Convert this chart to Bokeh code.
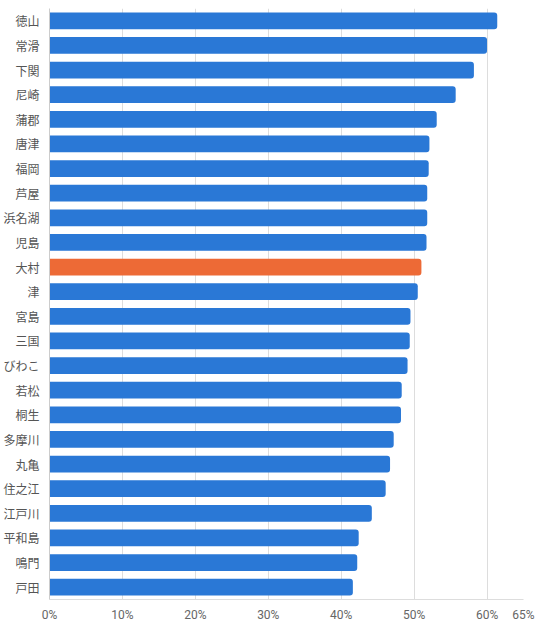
from bokeh.plotting import figure
from bokeh.models import ColumnDataSource, FactorRange, Range1d, FixedTicker, PrintfTickFormatter
from bokeh.embed import file_html
from bokeh.resources import INLINE

courses = ["徳山", "常滑", "下関", "尼崎", "蒲郡", "唐津", "福岡", "芦屋", "浜名湖", "児島",
           "大村", "津", "宮島", "三国", "びわこ", "若松", "桐生", "多摩川", "丸亀", "住之江",
           "江戸川", "平和島", "鳴門", "戸田"]
rates = [61.4, 60.0, 58.2, 55.7, 53.1, 52.1, 52.0, 51.8, 51.8, 51.7,
         51.0, 50.5, 49.5, 49.4, 49.1, 48.3, 48.2, 47.2, 46.7, 46.1,
         44.2, 42.4, 42.2, 41.6]
highlight = "大村"
x_ticks = [0, 10, 20, 30, 40, 50, 60, 65]

BLUE = "#2a78d6"
ORANGE = "#ed6a36"
colors = [ORANGE if c == highlight else BLUE for c in courses]

src = ColumnDataSource(dict(course=courses, rate=rates, color=colors))

p = figure(width=535, height=624, output_backend="svg", toolbar_location=None,
           y_range=FactorRange(factors=list(reversed(courses)), range_padding=0),
           x_range=Range1d(0, 65), min_border_top=8, min_border_right=12,
           min_border_left=48, min_border_bottom=0)

p.hbar(y="course", right="rate", left=0, height=0.68, source=src,
       fill_color="color", line_color=None, border_radius=(0, 3, 3, 0))

p.outline_line_color = None
p.ygrid.grid_line_color = None
p.xgrid.grid_line_color = "#dddddd"
p.xaxis.ticker = FixedTicker(ticks=x_ticks)
p.xgrid.ticker = FixedTicker(ticks=x_ticks)
p.xaxis.formatter = PrintfTickFormatter(format="%d%%")
p.xaxis.axis_line_color = "#dddddd"
p.xaxis.major_tick_line_color = None
p.xaxis.minor_tick_line_color = None
p.xaxis.major_tick_out = 0
p.xaxis.major_label_standoff = 8
p.xaxis.major_label_text_font = "Roboto"
p.xaxis.major_label_text_font_size = "12px"
p.xaxis.major_label_text_color = "#666666"

p.yaxis.axis_line_color = "#cccccc"
p.yaxis.major_tick_line_color = None
p.yaxis.minor_tick_line_color = None
p.yaxis.major_tick_out = 0
p.yaxis.major_label_standoff = 10
p.yaxis.major_label_text_font = "Noto Sans CJK JP"
p.yaxis.major_label_text_font_size = "12px"
p.yaxis.major_label_text_color = "#555555"

open("out.html", "w").write(file_html(p, INLINE))
